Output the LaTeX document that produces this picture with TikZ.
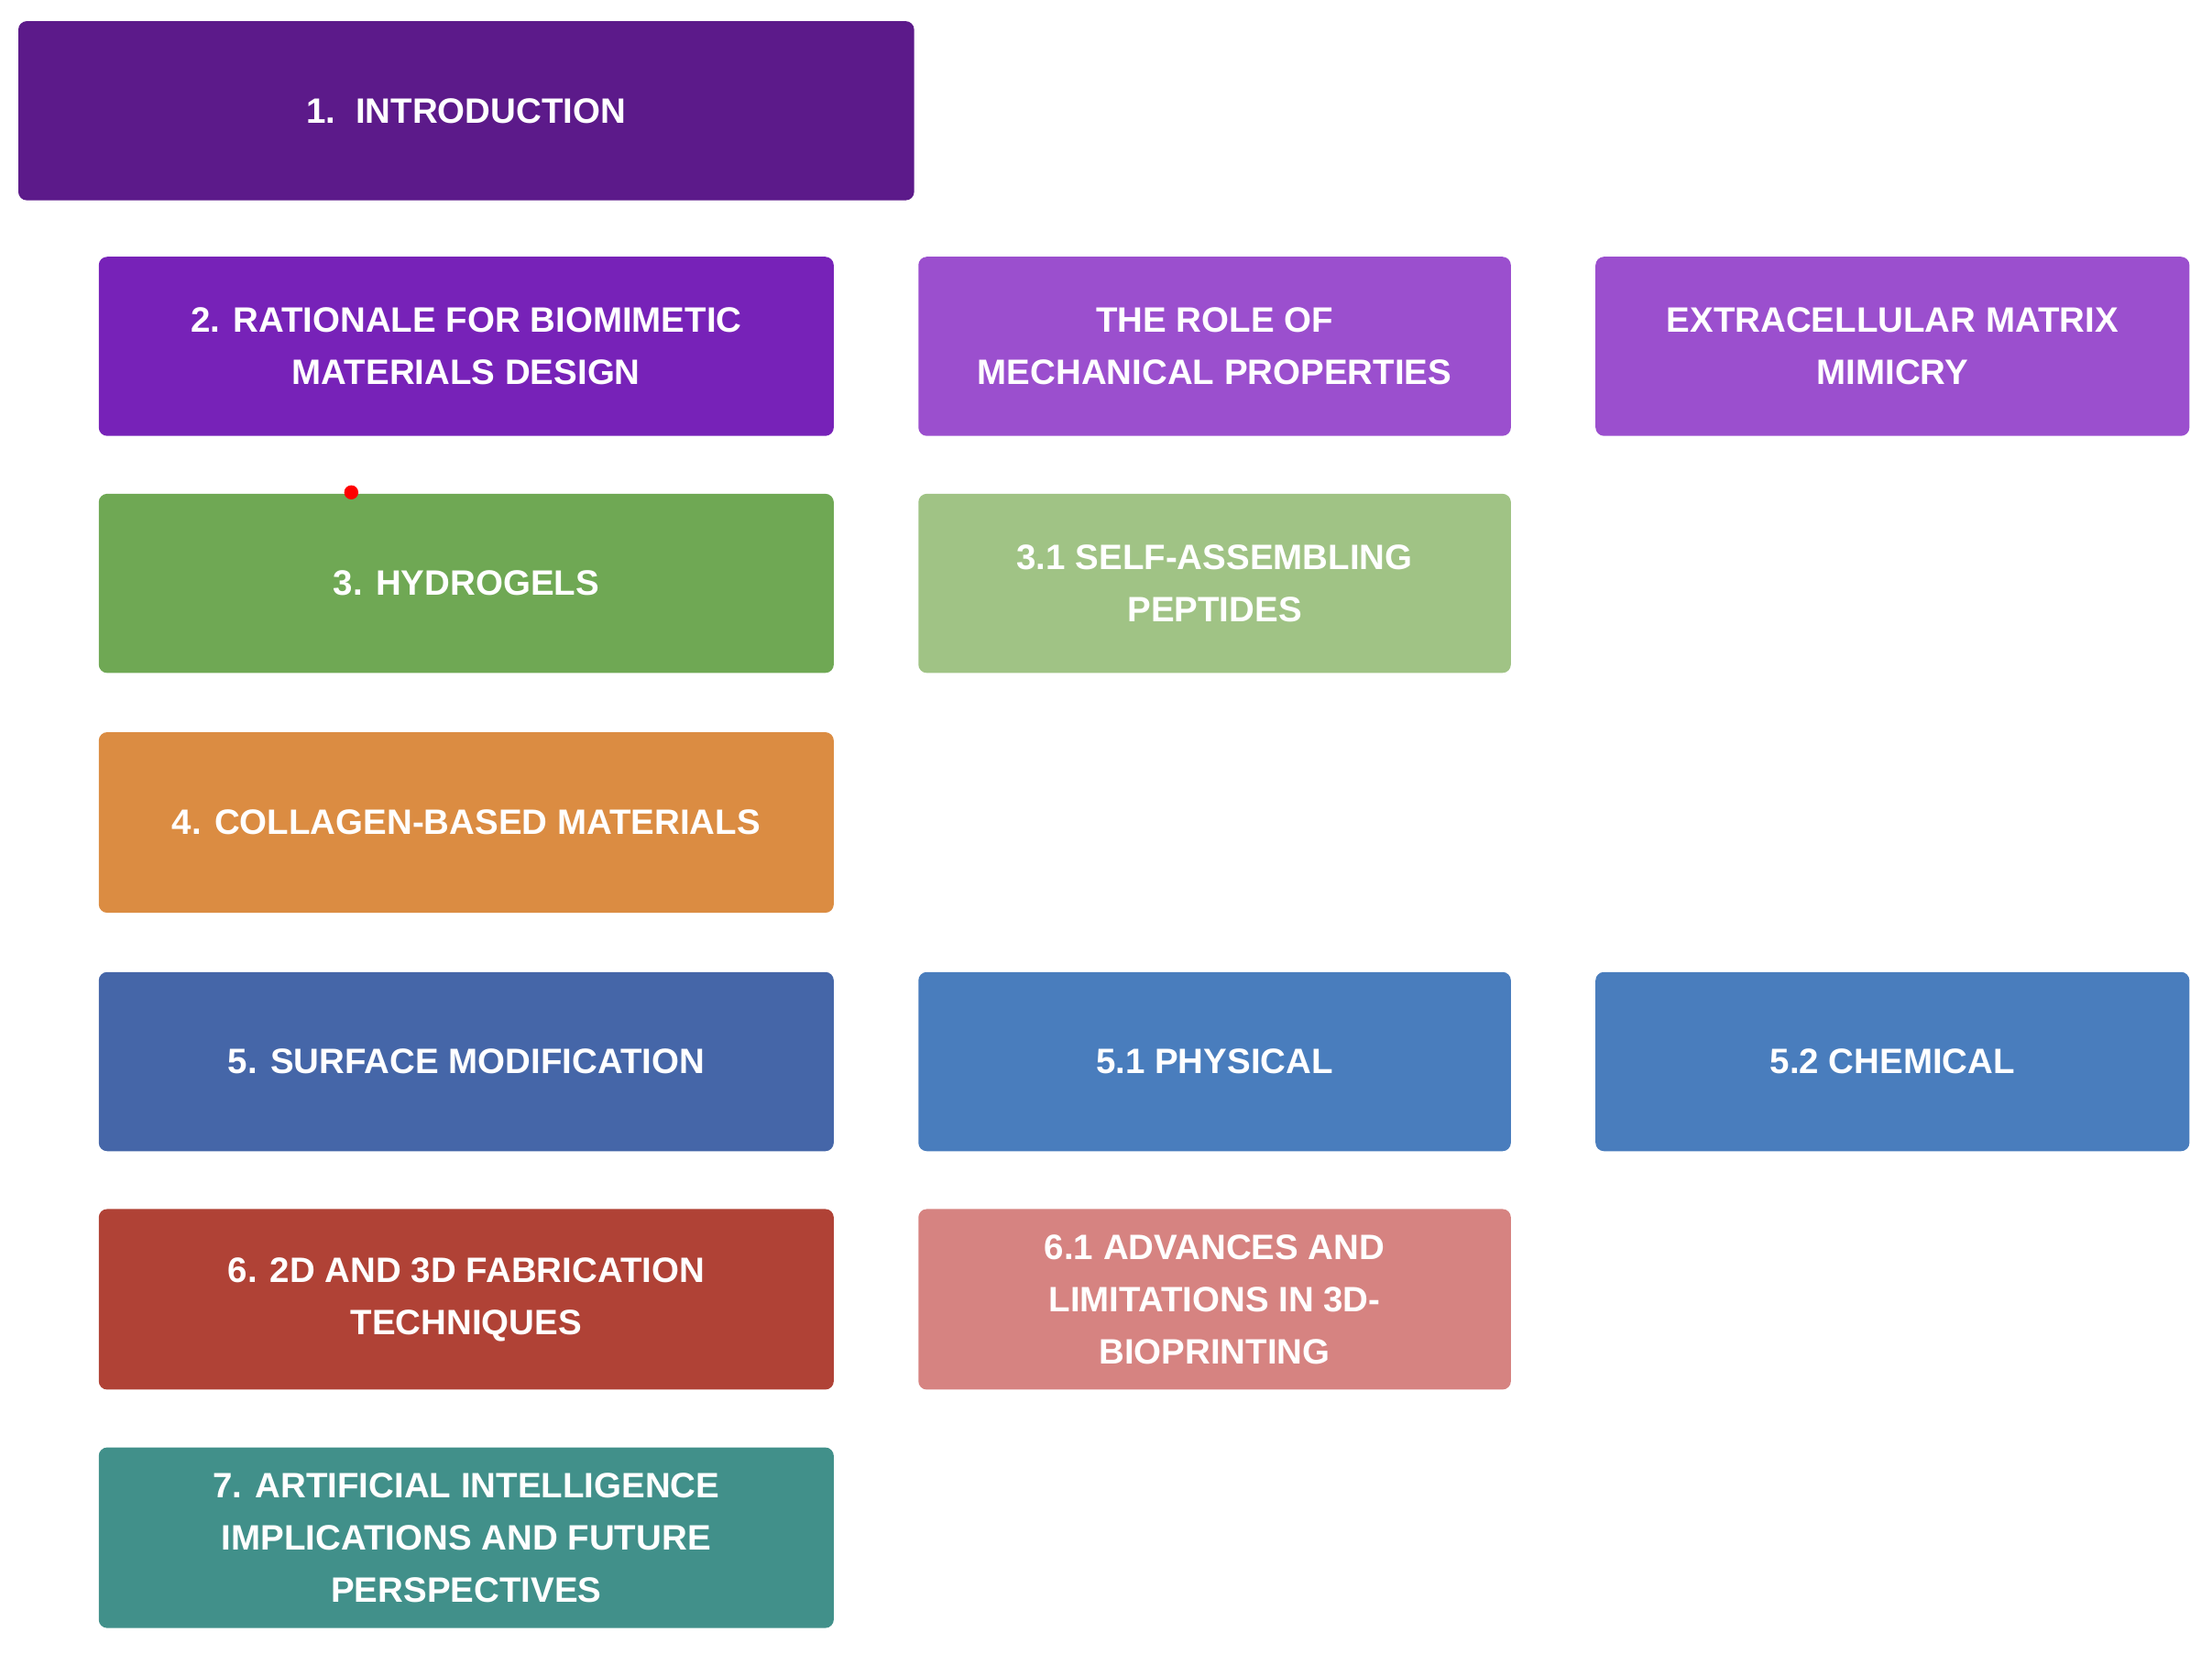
\documentclass[tikz,border=0pt]{standalone}
\usepackage{fontspec}
\setmainfont{Liberation Sans}
\begin{document}
\begin{tikzpicture}[x=1pt,y=-1pt,
 box/.style={rounded corners=6pt,draw=none,text=white,align=center,font=\fontsize{25}{37}\selectfont\bfseries,inner sep=0pt}]
\useasboundingbox (0,0) rectangle (1568,1172);
\definecolor{cIntro}{HTML}{5C1A8A}
\definecolor{cRat}{HTML}{7722B8}
\definecolor{cLav}{HTML}{9B4FCE}
\definecolor{cHyd}{HTML}{6FA854}
\definecolor{cSelf}{HTML}{A0C385}
\definecolor{cCol}{HTML}{DB8C42}
\definecolor{cSurf}{HTML}{4566A8}
\definecolor{cPhys}{HTML}{497DBD}
\definecolor{cFab}{HTML}{B04236}
\definecolor{cAdv}{HTML}{D68381}
\definecolor{cAI}{HTML}{41908A}
\newcommand{\bx}[7]{\fill[#6,rounded corners=6pt] (#2,#3) rectangle (#4,#5);
 \node[box] (#1) at ({(#2+#4)/2},{(#3+#5)/2}) {#7};}
\bx{intro}{13}{15}{648}{142}{cIntro}{1.\ \ INTRODUCTION}
\bx{rat}{70}{182}{591}{309}{cRat}{2. RATIONALE FOR BIOMIMETIC\\MATERIALS DESIGN}
\bx{role}{651}{182}{1071}{309}{cLav}{THE ROLE OF\\MECHANICAL PROPERTIES}
\bx{ecm}{1131}{182}{1552}{309}{cLav}{EXTRACELLULAR MATRIX\\MIMICRY}
\bx{hyd}{70}{350}{591}{477}{cHyd}{3. HYDROGELS}
\bx{self}{651}{350}{1071}{477}{cSelf}{3.1 SELF-ASSEMBLING\\PEPTIDES}
\bx{col}{70}{519}{591}{647}{cCol}{4. COLLAGEN-BASED MATERIALS}
\bx{surf}{70}{689}{591}{816}{cSurf}{5. SURFACE MODIFICATION}
\bx{phys}{651}{689}{1071}{816}{cPhys}{5.1 PHYSICAL}
\bx{chem}{1131}{689}{1552}{816}{cPhys}{5.2 CHEMICAL}
\bx{fab}{70}{857}{591}{985}{cFab}{6. 2D AND 3D FABRICATION\\TECHNIQUES}
\bx{adv}{651}{857}{1071}{985}{cAdv}{6.1 ADVANCES AND\\LIMITATIONS IN 3D-\\BIOPRINTING}
\bx{ai}{70}{1026}{591}{1154}{cAI}{7. ARTIFICIAL INTELLIGENCE\\IMPLICATIONS AND FUTURE\\PERSPECTIVES}
\fill[red] (249,349) circle (5);
\end{tikzpicture}
\end{document}
